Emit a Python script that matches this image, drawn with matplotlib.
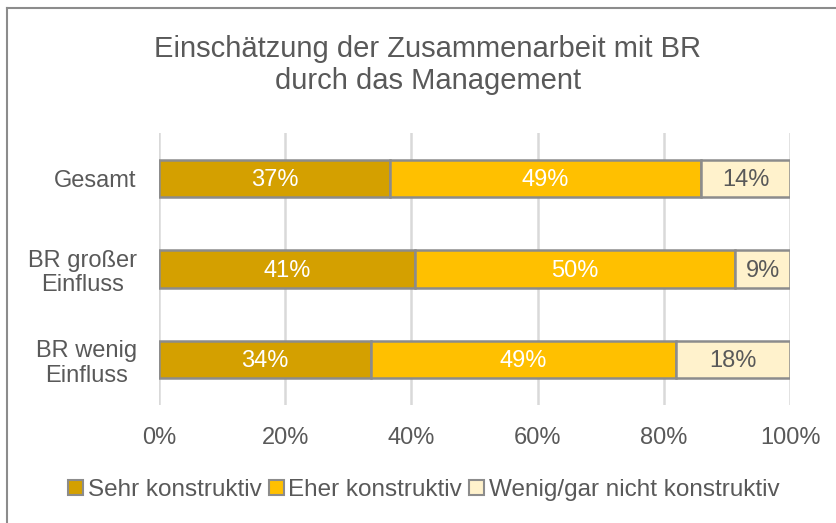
import matplotlib
matplotlib.use("Agg")
import matplotlib.pyplot as plt
from matplotlib.patches import Rectangle
from matplotlib.lines import Line2D
import numpy as np

categories = ["Gesamt", "BR großer\nEinfluss", "BR wenig\nEinfluss"]
series_names = ["Sehr konstruktiv", "Eher konstruktiv", "Wenig/gar nicht konstruktiv"]
sehr = [36.6, 40.6, 33.6]
eher = [49.3, 50.7, 48.3]
wenig = [14.1, 8.7, 18.1]
labels_sehr = ["37%", "41%", "34%"]
labels_eher = ["49%", "50%", "49%"]
labels_wenig = ["14%", "9%", "18%"]
xticks = [0, 20, 40, 60, 80, 100]
title = "Einschätzung der Zusammenarbeit mit BR\ndurch das Management"

colors = ["#D4A000", "#FFC000", "#FFF2CC"]
label_colors = ["white", "white", "#595959"]
edge = "#8C8C8C"
txt = "#595959"
plt.rcParams['font.family'] = ["Liberation Sans", "DejaVu Sans"]

fig = plt.figure(figsize=(8.37, 5.23), dpi=100)
ax = fig.add_axes([159/837, 1-405/523, (790-159)/837, (405-133)/523])

y = np.arange(len(categories))
left = np.zeros(len(categories))
all_vals = [sehr, eher, wenig]
all_labels = [labels_sehr, labels_eher, labels_wenig]
for vals, labs, c, lc, name in zip(all_vals, all_labels, colors, label_colors, series_names):
    vals = np.array(vals)
    ax.barh(y, vals, left=left, height=0.41, color=c, edgecolor=edge,
            linewidth=1.8, label=name, zorder=3)
    for yi, l, v, lab in zip(y, left, vals, labs):
        ax.text(l + v/2, yi + 0.02, lab, ha='center', va='center', color=lc, fontsize=17, zorder=4)
    left = left + vals

ax.set_xlim(0, 100)
ax.set_ylim(len(categories)-0.5, -0.5)
ax.set_yticks(y)
ax.set_yticklabels(categories, fontsize=17, color=txt, multialignment='center', linespacing=1.15)
ax.set_xticks(xticks)
ax.set_xticklabels([f"{t}%" for t in xticks], fontsize=17, color=txt)
ax.tick_params(axis='both', length=0)
ax.tick_params(axis='y', pad=16)
ax.tick_params(axis='x', pad=16)
for s in ax.spines.values():
    s.set_visible(False)
ax.grid(axis='x', color="#D9D9D9", linewidth=1.8, zorder=0)
ax.set_axisbelow(True)

fig.text(428/837, 1-65/523, title, ha='center', va='center', fontsize=21,
         color=txt, linespacing=1.2)

handles = [Rectangle((0, 0), 1, 1, facecolor=c, edgecolor=edge, linewidth=1.5) for c in colors]
leg = fig.legend(handles, series_names, loc='center', bbox_to_anchor=(424/837, 1-490/523),
                 ncol=3, frameon=False, fontsize=17.5, handlelength=0.6, handleheight=0.6,
                 handletextpad=0.2, columnspacing=0.3, borderpad=0)
for t in leg.get_texts():
    t.set_color(txt)

# outer frame
fig.add_artist(Line2D([7.5/837, 7.5/837], [0, 1-7.5/523], transform=fig.transFigure, color="#8C8C8C", linewidth=1.5))
fig.add_artist(Line2D([7.5/837, 1], [1-7.5/523, 1-7.5/523], transform=fig.transFigure, color="#8C8C8C", linewidth=1.5))

fig.savefig("out.png", dpi=100, facecolor="white")
